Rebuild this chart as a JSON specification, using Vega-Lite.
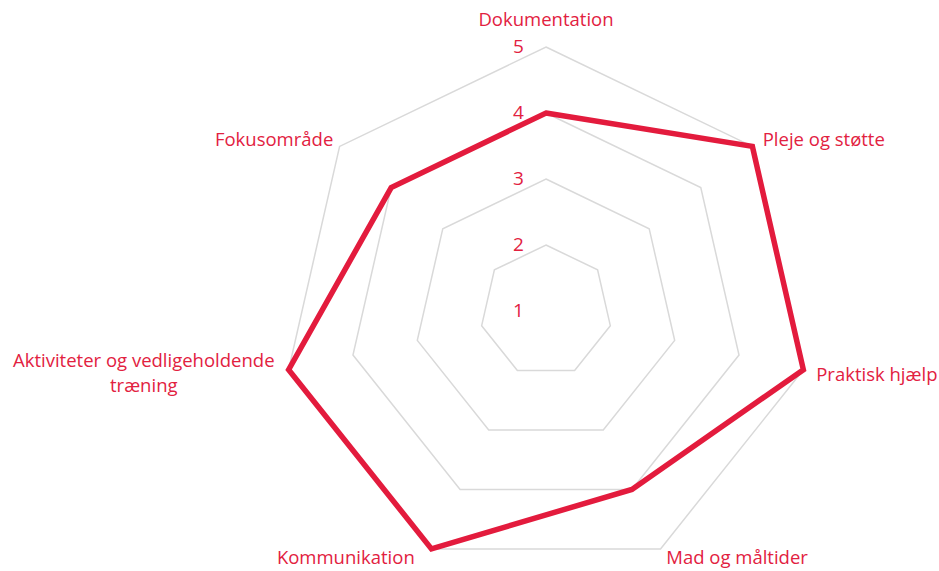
{
  "$schema": "https://vega.github.io/schema/vega-lite/v6.json",
  "width": 939,
  "height": 571,
  "autosize": "none",
  "padding": 0,
  "background": "white",
  "config": {"view": {"stroke": null}, "font": "Open Sans"},
  "datasets": {
    "scores": [
      {"i": 0, "area": "Dokumentation", "value": 4},
      {"i": 1, "area": "Pleje og støtte", "value": 5},
      {"i": 2, "area": "Praktisk hjælp", "value": 5},
      {"i": 3, "area": "Mad og måltider", "value": 4},
      {"i": 4, "area": "Kommunikation", "value": 5},
      {"i": 5, "area": "Aktiviteter og vedligeholdende træning", "value": 5},
      {"i": 6, "area": "Fokusområde", "value": 4}
    ],
    "rings": [
      {"level": 2, "k": [0, 1, 2, 3, 4, 5, 6]},
      {"level": 3, "k": [0, 1, 2, 3, 4, 5, 6]},
      {"level": 4, "k": [0, 1, 2, 3, 4, 5, 6]},
      {"level": 5, "k": [0, 1, 2, 3, 4, 5, 6]}
    ],
    "ticks": [
      {"level": 1}, {"level": 2}, {"level": 3}, {"level": 4}, {"level": 5}
    ]
  },
  "encoding": {},
  "layer": [
    {
      "data": {"name": "rings"},
      "transform": [
        {"flatten": ["k"]},
        {"calculate": "2 * PI * datum.k / 7", "as": "a"},
        {"calculate": "(datum.level - 1) * sin(datum.a)", "as": "x"},
        {"calculate": "(datum.level - 1) * cos(datum.a)", "as": "y"}
      ],
      "mark": {"type": "line", "interpolate": "linear-closed", "stroke": "#D9D9D9", "strokeWidth": 1.5},
      "encoding": {
        "x": {"field": "x", "type": "quantitative", "scale": {"domain": [-8.273, 5.955], "nice": false, "zero": false}, "axis": null},
        "y": {"field": "y", "type": "quantitative", "scale": {"domain": [-3.939, 4.712], "nice": false, "zero": false}, "axis": null},
        "detail": {"field": "level", "type": "nominal"},
        "order": {"field": "k", "type": "quantitative"}
      }
    },
    {
      "data": {"name": "scores"},
      "transform": [
        {"calculate": "2 * PI * datum.i / 7", "as": "a"},
        {"calculate": "(datum.value - 1) * sin(datum.a)", "as": "x"},
        {"calculate": "(datum.value - 1) * cos(datum.a)", "as": "y"}
      ],
      "mark": {"type": "line", "interpolate": "linear-closed", "stroke": "#E31B3D", "strokeWidth": 5.5, "strokeJoin": "miter"},
      "encoding": {
        "x": {"field": "x", "type": "quantitative"},
        "y": {"field": "y", "type": "quantitative"},
        "order": {"field": "i", "type": "quantitative"}
      }
    },
    {
      "data": {"name": "ticks"},
      "transform": [
        {"calculate": "0", "as": "x"},
        {"calculate": "datum.level - 1", "as": "y"}
      ],
      "mark": {"type": "text", "align": "right", "baseline": "middle", "dx": -22, "fontSize": 19, "color": "#E2213F"},
      "encoding": {
        "x": {"field": "x", "type": "quantitative"},
        "y": {"field": "y", "type": "quantitative"},
        "text": {"field": "level", "type": "quantitative"}
      }
    },
    {
      "data": {"name": "scores"},
      "transform": [
        {"filter": "datum.i == 0"},
        {"calculate": "2 * PI * datum.i / 7", "as": "a"},
        {"calculate": "4.2 * sin(datum.a)", "as": "x"},
        {"calculate": "4.2 * cos(datum.a)", "as": "y"}
      ],
      "mark": {"type": "text", "align": "center", "baseline": "middle", "dy": -14, "fontSize": 18.5, "color": "#E2213F"},
      "encoding": {
        "x": {"field": "x", "type": "quantitative"},
        "y": {"field": "y", "type": "quantitative"},
        "text": {"field": "area", "type": "nominal"}
      }
    },
    {
      "data": {"name": "scores"},
      "transform": [
        {"filter": "datum.i == 1 || datum.i == 2"},
        {"calculate": "2 * PI * datum.i / 7", "as": "a"},
        {"calculate": "4.2 * sin(datum.a)", "as": "x"},
        {"calculate": "4.2 * cos(datum.a)", "as": "y"}
      ],
      "mark": {"type": "text", "align": "left", "baseline": "middle", "dy": 2, "fontSize": 18.5, "color": "#E2213F"},
      "encoding": {
        "x": {"field": "x", "type": "quantitative"},
        "y": {"field": "y", "type": "quantitative"},
        "text": {"field": "area", "type": "nominal"}
      }
    },
    {
      "data": {"name": "scores"},
      "transform": [
        {"filter": "datum.i == 3"},
        {"calculate": "2 * PI * datum.i / 7", "as": "a"},
        {"calculate": "4.2 * sin(datum.a)", "as": "x"},
        {"calculate": "4.2 * cos(datum.a)", "as": "y"}
      ],
      "mark": {"type": "text", "align": "left", "baseline": "middle", "dy": -3, "fontSize": 18.5, "color": "#E2213F"},
      "encoding": {
        "x": {"field": "x", "type": "quantitative"},
        "y": {"field": "y", "type": "quantitative"},
        "text": {"field": "area", "type": "nominal"}
      }
    },
    {
      "data": {"name": "scores"},
      "transform": [
        {"filter": "datum.i == 4"},
        {"calculate": "2 * PI * datum.i / 7", "as": "a"},
        {"calculate": "4.2 * sin(datum.a)", "as": "x"},
        {"calculate": "4.2 * cos(datum.a)", "as": "y"}
      ],
      "mark": {"type": "text", "align": "right", "baseline": "middle", "dx": -11, "dy": -3, "fontSize": 18.5, "color": "#E2213F"},
      "encoding": {
        "x": {"field": "x", "type": "quantitative"},
        "y": {"field": "y", "type": "quantitative"},
        "text": {"field": "area", "type": "nominal"}
      }
    },
    {
      "data": {"name": "scores"},
      "transform": [
        {"filter": "datum.i == 5"},
        {"calculate": "2 * PI * datum.i / 7", "as": "a"},
        {"calculate": "4.2 * sin(datum.a)", "as": "x"},
        {"calculate": "4.2 * cos(datum.a)", "as": "y"},
        {"calculate": "['Aktiviteter og vedligeholdende', 'træning']", "as": "lines"}
      ],
      "mark": {"type": "text", "align": "center", "baseline": "middle", "dx": -132, "dy": -12, "lineHeight": 25, "fontSize": 18.5, "color": "#E2213F"},
      "encoding": {
        "x": {"field": "x", "type": "quantitative"},
        "y": {"field": "y", "type": "quantitative"},
        "text": {"field": "lines"}
      }
    },
    {
      "data": {"name": "scores"},
      "transform": [
        {"filter": "datum.i == 6"},
        {"calculate": "2 * PI * datum.i / 7", "as": "a"},
        {"calculate": "4.2 * sin(datum.a)", "as": "x"},
        {"calculate": "4.2 * cos(datum.a)", "as": "y"}
      ],
      "mark": {"type": "text", "align": "right", "baseline": "middle", "dx": 4, "dy": 2, "fontSize": 18.5, "color": "#E2213F"},
      "encoding": {
        "x": {"field": "x", "type": "quantitative"},
        "y": {"field": "y", "type": "quantitative"},
        "text": {"field": "area", "type": "nominal"}
      }
    }
  ]
}
